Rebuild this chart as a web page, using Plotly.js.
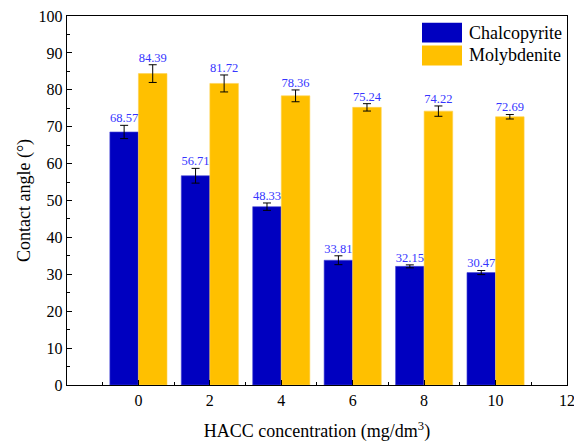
<!DOCTYPE html>
<html>
<head>
<meta charset="utf-8">
<script src="https://cdn.plot.ly/plotly-3.0.1.min.js"></script>
<style>html,body{margin:0;padding:0;background:#fff;}#chart{width:574px;height:445px;}</style>
</head>
<body>
<div id="chart"></div>
<script>
const concentrations = [0, 2, 4, 6, 8, 10];
const chalcopyrite = [68.57, 56.71, 48.33, 33.81, 32.15, 30.47];
const chalcopyriteErr = [1.8, 2.0, 1.0, 1.2, 0.4, 0.55];
const molybdenite = [84.39, 81.72, 78.36, 75.24, 74.22, 72.69];
const molybdeniteErr = [2.4, 2.3, 1.6, 1.0, 1.4, 0.6];
const xTicks = [0, 2, 4, 6, 8, 10, 12];
const seriesNames = ['Chalcopyrite', 'Molybdenite'];

const FONT = '"Times New Roman", "Liberation Serif", "DejaVu Serif", serif';
const BLUE = '#0000C0';
const GOLD = '#FFC000';
const LABEL = '#3535ff';
const BARW = 0.8;

const fmt = v => v.toFixed(2);

const traces = [
  {
    type: 'bar', name: seriesNames[0], x: concentrations, y: chalcopyrite, offsetgroup: 'a',
    marker: {color: BLUE, line: {color: '#4a4ad6', width: 0.6}},
    error_y: {type: 'data', array: chalcopyriteErr, visible: true, color: '#000', thickness: 1, width: 4}
  },
  {
    type: 'bar', name: seriesNames[1], x: concentrations, y: molybdenite, offsetgroup: 'b',
    marker: {color: GOLD, line: {color: '#ffd24d', width: 0.6}},
    error_y: {type: 'data', array: molybdeniteErr, visible: true, color: '#000', thickness: 1, width: 4}
  },
  {
    type: 'scatter', mode: 'text', x: concentrations.map(c => c - BARW / 2),
    y: chalcopyrite.map((v, i) => v + chalcopyriteErr[i]),
    text: chalcopyrite.map(fmt), textposition: 'top center',
    textfont: {family: FONT, size: 12.5, color: LABEL}, hoverinfo: 'skip', cliponaxis: false
  },
  {
    type: 'scatter', mode: 'text', x: concentrations.map(c => c + BARW / 2),
    y: molybdenite.map((v, i) => v + molybdeniteErr[i]),
    text: molybdenite.map(fmt), textposition: 'top center',
    textfont: {family: FONT, size: 12.5, color: LABEL}, hoverinfo: 'skip', cliponaxis: false
  }
];

const layout = {
  width: 574, height: 445,
  margin: {l: 67, r: 7, t: 16, b: 60},
  paper_bgcolor: '#fff', plot_bgcolor: '#fff',
  font: {family: FONT, color: '#000', size: 16},
  showlegend: false,
  barmode: 'group', bargap: 0.2, bargroupgap: 0,
  xaxis: {
    range: [-2, 12.001], tickmode: 'array', tickvals: xTicks, ticktext: xTicks.map(String),
    ticklabeloverflow: 'allow',
    ticks: 'inside', ticklen: 5, tickwidth: 1, tickcolor: '#000',
    minor: {tickmode: 'linear', tick0: -1, dtick: 2, ticks: 'inside', ticklen: 3, tickcolor: '#000', showgrid: false},
    showline: true, linecolor: '#000', linewidth: 1.3, mirror: true,
    showgrid: false, zeroline: false,
    tickfont: {family: FONT, size: 16},
    title: {text: 'HACC concentration (mg/dm<sup>3</sup>)', font: {family: FONT, size: 18}, standoff: 17}
  },
  yaxis: {
    range: [0, 100], dtick: 10, tick0: 0,
    ticks: 'inside', ticklen: 5, tickwidth: 1, tickcolor: '#000',
    minor: {dtick: 5, ticks: 'inside', ticklen: 3, tickcolor: '#000', showgrid: false},
    showline: true, linecolor: '#000', linewidth: 1.3, mirror: true,
    showgrid: false, zeroline: false,
    tickfont: {family: FONT, size: 16},
    title: {text: 'Contact angle (°)', font: {family: FONT, size: 18}, standoff: 3}
  },
  shapes: [
    {type: 'rect', xref: 'paper', yref: 'paper', x0: 0.710, x1: 0.790, y0: 0.928, y1: 0.982, fillcolor: BLUE, line: {width: 0}},
    {type: 'rect', xref: 'paper', yref: 'paper', x0: 0.710, x1: 0.790, y0: 0.866, y1: 0.920, fillcolor: GOLD, line: {width: 0}}
  ],
  annotations: [
    {xref: 'paper', yref: 'paper', x: 0.800, y: 0.955, xanchor: 'left', yanchor: 'middle', showarrow: false,
     text: seriesNames[0], font: {family: FONT, size: 18}},
    {xref: 'paper', yref: 'paper', x: 0.800, y: 0.893, xanchor: 'left', yanchor: 'middle', showarrow: false,
     text: seriesNames[1], font: {family: FONT, size: 18}}
  ]
};

Plotly.newPlot('chart', traces, layout, {displayModeBar: false, staticPlot: true});
</script>
</body>
</html>
